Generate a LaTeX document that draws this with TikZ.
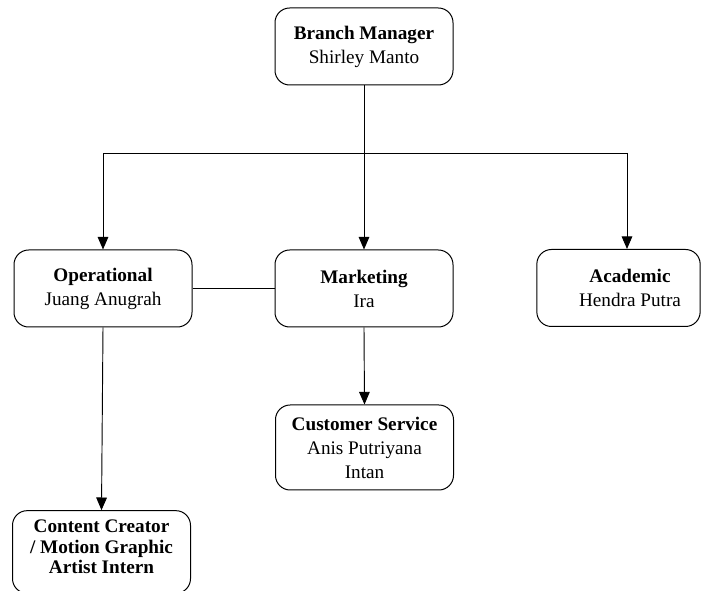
\documentclass[tikz,border=0pt]{standalone}
\usepackage{fontspec}
\setmainfont{Liberation Serif}
\usepackage{tikz}
\usetikzlibrary{arrows.meta,positioning,calc}

\begin{document}
\begin{tikzpicture}[x=0.75pt,y=-0.75pt,
  box/.style={draw,line width=0.75pt,rounded corners=11pt,align=center,
    minimum width=133.5pt,minimum height=57.75pt,inner sep=2pt,
    font=\fontsize{14.4}{18}\selectfont},
  txt/.style={align=center,inner sep=0pt,font=\fontsize{14.4}{18}\selectfont},
  arr/.style={-{Triangle[length=9.5pt,width=8pt]}},
  line width=0.7pt]
\useasboundingbox (0,0) rectangle (701,591);
%obere Ebene
\node[box] (bm) at (364,46.5) {\textbf{Branch Manager}\\Shirley Manto};
%mittlere Ebene
\node[box] (op) at (103,288.5) {\textbf{Operational}\\Juang Anugrah};
\node[box] (mk) at (364,288.5) {\textbf{Marketing}\\Ira};
\node[box,minimum width=122.5pt] (ac) at (618.5,288) {};
\node[txt] (actxt) at (630,288) {\textbf{Academic}\\Hendra Putra};
%untere Ebene
\node[box,minimum height=63.75pt] (cs) at (364.5,447.5) {\textbf{Customer Service}\\Anis Putriyana\\Intan};
\node[box,minimum height=62pt] (cc) at (101.5,552) {};
\node[txt,font=\fontsize{14.4}{15.4}\selectfont] (cctxt) at (101.5,547) {\textbf{Content Creator}\\\textbf{/ Motion Graphic}\\\textbf{Artist Intern}};
%Verbindungen
\coordinate (split) at (364,153);
\coordinate (acin) at (627,153);
\draw (bm.south) -- (split);
\draw[arr] (split) -| (op.north);
\draw[arr] (split) -- (mk.north);
\draw (split) -- (acin);
\draw[arr] (acin) -- (acin |- ac.north);
\draw (op.east) -- (mk.west);
\draw[arr] (mk.south) -- (cs.north);
\draw[arr] (op.south) -- (cc.north);
\end{tikzpicture}
\end{document}
